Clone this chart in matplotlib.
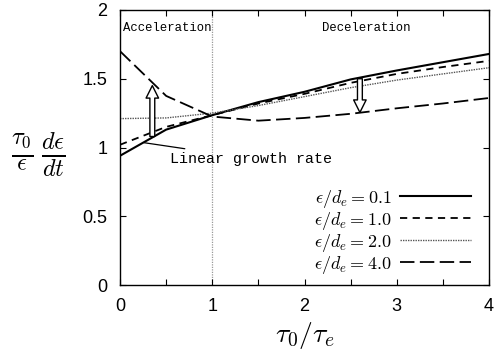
import matplotlib
matplotlib.use("Agg")
import matplotlib.pyplot as plt
from matplotlib.ticker import MultipleLocator, FuncFormatter

plt.rcParams['mathtext.fontset'] = 'cm'
plt.rcParams['font.family'] = ['Liberation Sans', 'DejaVu Sans']

# tau_0 / tau_e
x = [0.0, 0.5, 1.0, 1.5, 2.0, 2.5, 3.0, 3.5, 4.0]
# normalised growth rate for each epsilon/d_e
rate_01 = [0.94, 1.13, 1.235, 1.33, 1.405, 1.495, 1.56, 1.62, 1.68]
rate_10 = [1.02, 1.15, 1.235, 1.32, 1.39, 1.47, 1.535, 1.585, 1.63]
rate_20 = [1.21, 1.215, 1.25, 1.305, 1.37, 1.435, 1.49, 1.535, 1.58]
rate_40 = [1.70, 1.375, 1.225, 1.195, 1.215, 1.245, 1.285, 1.32, 1.36]
labels = [r'$\epsilon/d_e = 0.1$', r'$\epsilon/d_e = 1.0$',
          r'$\epsilon/d_e = 2.0$', r'$\epsilon/d_e = 4.0$']

fig = plt.figure(figsize=(4.96, 3.55), dpi=100)
ax = fig.add_axes([0.242, 0.197, 0.744, 0.775])

ax.axvline(1.0, color='#999999', lw=0.9, ls=(0, (1, 1)), zorder=1)

ax.plot(x, rate_01, color='black', lw=1.5, ls='-', label=labels[0])
ax.plot(x, rate_10, color='black', lw=1.3, ls=(0, (4, 3)), label=labels[1])
ax.plot(x, rate_20, color='#555555', lw=1.0, ls=(0, (1, 0.8)), label=labels[2])
ax.plot(x, rate_40, color='black', lw=1.3, ls=(0, (8, 3)), label=labels[3])

# hollow block arrows showing the change with epsilon/d_e
arrow_kw = dict(arrowstyle='simple,head_width=0.9,head_length=0.9,tail_width=0.35',
                facecolor='white', edgecolor='black', lw=1.0, shrinkA=0, shrinkB=0)
ax.annotate('', xy=(0.35, 1.45), xytext=(0.35, 1.08), arrowprops=arrow_kw)
ax.annotate('', xy=(2.6, 1.255), xytext=(2.6, 1.50), arrowprops=arrow_kw)

mono = ['Liberation Mono', 'DejaVu Sans Mono']
ax.text(0.03, 1.87, 'Acceleration', family=mono, fontsize=8.8, va='center', ha='left')
ax.text(2.67, 1.87, 'Deceleration', family=mono, fontsize=8.8, va='center', ha='center')
ax.annotate('Linear growth rate', xy=(0.26, 1.035), xytext=(0.54, 0.92),
            family=mono, fontsize=10.8, va='center', ha='left',
            arrowprops=dict(arrowstyle='-', color='black', lw=0.9,
                            shrinkA=0, shrinkB=0))

ax.set_xlim(0, 4)
ax.set_ylim(0, 2)
ax.xaxis.set_major_locator(MultipleLocator(0.5))
ax.yaxis.set_major_locator(MultipleLocator(0.5))
ax.xaxis.set_major_formatter(FuncFormatter(
    lambda v, p: f'{int(round(v))}' if abs(v - round(v)) < 1e-6 else ''))
ax.yaxis.set_major_formatter(FuncFormatter(
    lambda v, p: f'{int(round(v))}' if abs(v - round(v)) < 1e-6 else f'{v:g}'))
ax.tick_params(direction='in', top=True, right=True, length=4, width=0.8,
               labelsize=13)
ax.tick_params(axis='x', pad=9)
ax.tick_params(axis='y', pad=9)
for s in ax.spines.values():
    s.set_linewidth(1.0)

ax.set_xlabel(r'$\tau_0/\tau_e$', fontsize=20, labelpad=4)
ax.set_ylabel(r'$\frac{\tau_0}{\epsilon}\,\frac{d\epsilon}{dt}$', fontsize=25,
              rotation=0, va='center', ha='center')
ax.yaxis.set_label_coords(-0.222, 0.476)

ax.legend(loc='lower right', bbox_to_anchor=(0.985, -0.012), frameon=False,
          markerfirst=False, fontsize=13, handlelength=3.9, handletextpad=0.5,
          labelspacing=0.0, borderpad=0.2)

fig.savefig('out.png', dpi=100)
